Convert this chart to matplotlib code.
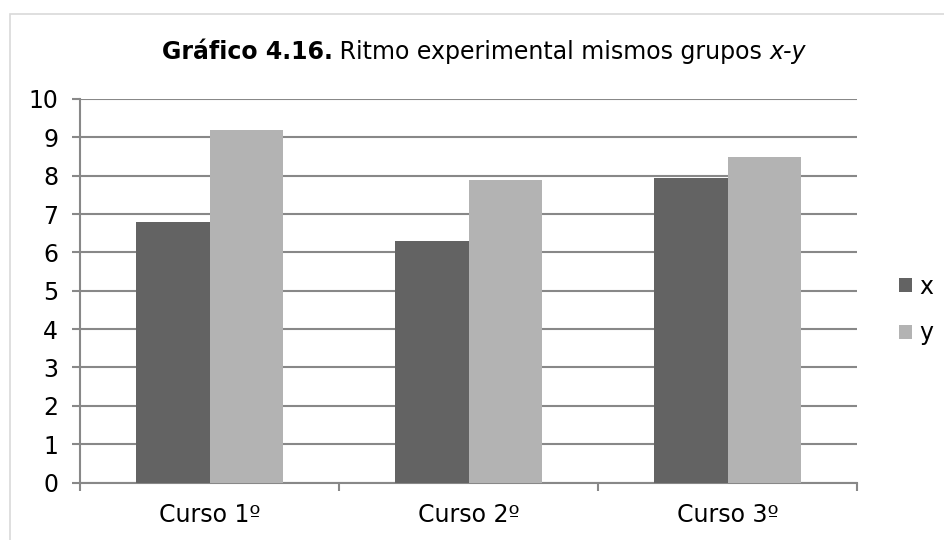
import matplotlib
matplotlib.use("Agg")
import matplotlib.pyplot as plt
from matplotlib.patches import Rectangle
import numpy as np

plt.rcParams["font.family"] = ["DejaVu Sans"]

categories = ["Curso 1º", "Curso 2º", "Curso 3º"]
x_vals = [6.8, 6.3, 7.95]
y_vals = [9.2, 7.9, 8.5]
series_names = ["x", "y"]
y_ticks = list(range(0, 11))

W, H = 944, 540
FS = 17
fig = plt.figure(figsize=(W / 100, H / 100), dpi=100)
fig.patch.set_facecolor("white")

# chart-area frame (runs off the right and bottom edges)
fig.patches.append(Rectangle((10 / W, -0.1), 1.2, 1 - 14 / H + 0.1,
                             transform=fig.transFigure, fill=False,
                             edgecolor="#d9d9d9", lw=1.2))

ax = fig.add_axes([80 / W, 1 - 482.5 / H, (857 - 80) / W, (482.5 - 99) / H])

grid_c = "#888888"
w = 0.282
pos = np.arange(len(categories))
ax.bar(pos - w / 2, x_vals, w, color="#636363", label=series_names[0], zorder=3)
ax.bar(pos + w / 2, y_vals, w, color="#b3b3b3", label=series_names[1], zorder=3)

ax.set_xlim(-0.5, len(categories) - 0.5)
ax.set_ylim(0, 10)
ax.set_yticks(y_ticks)
ax.yaxis.grid(True, color=grid_c, lw=1.5, zorder=0)
ax.set_axisbelow(True)

ax.set_xticks(np.arange(-0.5, len(categories), 1.0))
ax.set_xticklabels([])
ax.set_xticks(pos, minor=True)
ax.set_xticklabels(categories, minor=True)
ax.tick_params(axis="x", which="major", length=5.8, width=1.5, color=grid_c)
ax.tick_params(axis="x", which="minor", length=0, pad=15, labelsize=FS)
ax.tick_params(axis="y", length=5.8, width=1.5, color=grid_c, labelsize=FS, pad=10)

for s in ["top", "right"]:
    ax.spines[s].set_visible(False)
for s in ["left", "bottom"]:
    ax.spines[s].set_color(grid_c)
    ax.spines[s].set_linewidth(1.5)

ax.legend(loc="center left", bbox_to_anchor=((899 - 80) / 777, 0.45),
          frameon=False, fontsize=FS, borderaxespad=0, borderpad=0,
          handlelength=0.55, handleheight=0.55,
          handletextpad=0.3, labelspacing=0.95)

# title with mixed bold / regular / italic parts
parts = [("Gráfico 4.16.", "bold", "normal"),
         (" Ritmo experimental mismos grupos ", "normal", "normal"),
         ("x-y", "normal", "italic")]
fig.canvas.draw()
renderer = fig.canvas.get_renderer()
texts, widths = [], []
for s, fw, fs in parts:
    t = fig.text(0, 1 - 59 / H, s, fontsize=FS, fontweight=fw, style=fs,
                 va="baseline", ha="left")
    widths.append(t.get_window_extent(renderer).width)
    texts.append(t)
x0 = 484 - sum(widths) / 2
for t, wd in zip(texts, widths):
    t.set_x(x0 / W)
    x0 += wd

fig.savefig("out.png", dpi=100, facecolor="white")
